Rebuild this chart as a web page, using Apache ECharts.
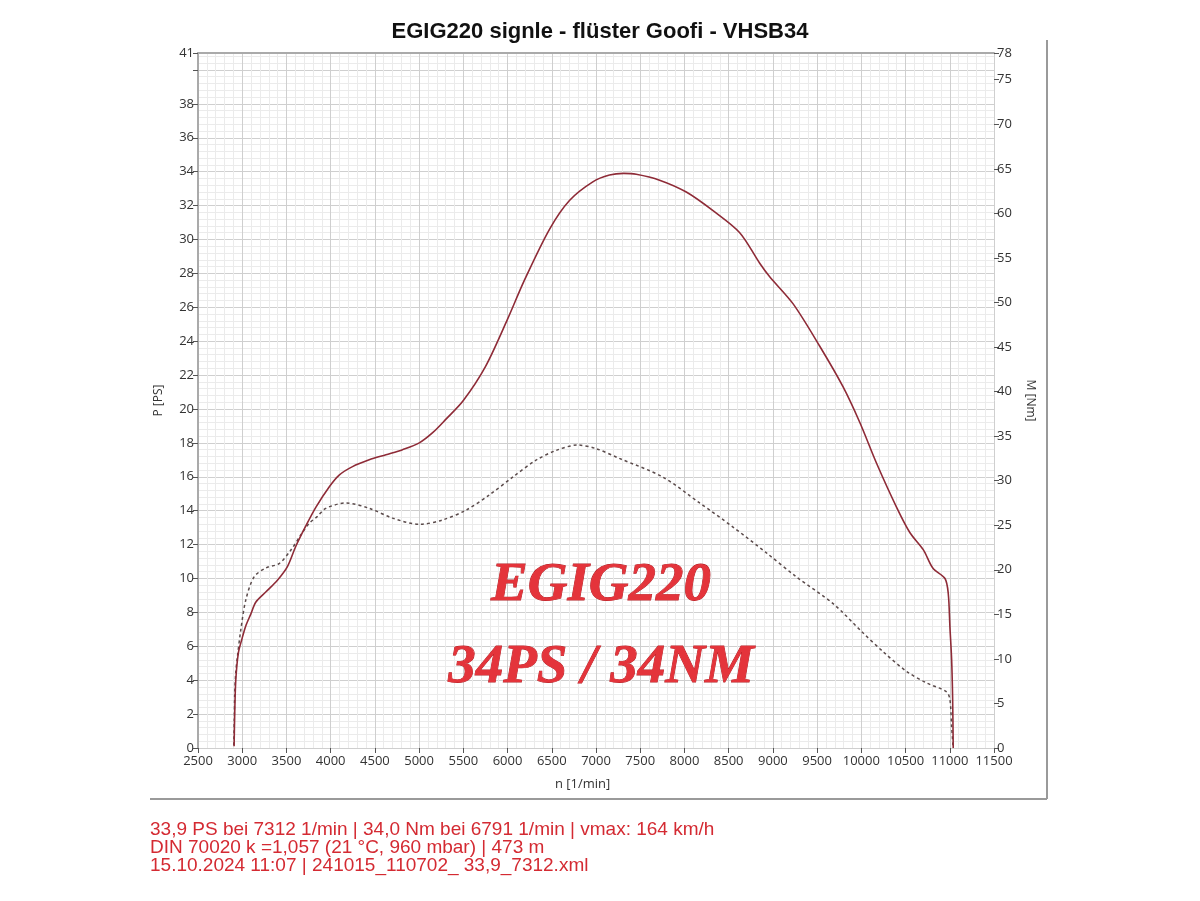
<!DOCTYPE html>
<html>
<head>
<meta charset="utf-8">
<title>EGIG220 Leistungsmessung</title>
<script src="https://cdn.jsdelivr.net/npm/echarts@6/dist/echarts.min.js"></script>
<style>
  html, body { margin: 0; padding: 0; background: #fff; }
  #main { width: 1200px; height: 901px; }
</style>
</head>
<body>
<div id="main"></div>
<script>
// Leistung (PS) ueber Drehzahl
var rpmP = [2908, 2915, 2927, 2956, 2995, 3040, 3097, 3153, 3266, 3398, 3511, 3606, 3719, 3832, 3983, 4096,
    4247, 4436, 4625, 4813, 5002, 5153, 5304, 5500, 5750, 6000, 6191, 6474, 6700, 6964, 7153, 7312, 7455,
    7719, 8021, 8323, 8625, 8851, 8964, 9229, 9530, 9794, 9983, 10172, 10399, 10550, 10700, 10810, 10946,
    10983, 11002, 11021, 11032, 11039];
var powerPS = [0.1, 2.0, 4.0, 5.6, 6.4, 7.2, 7.9, 8.6, 9.2, 9.9, 10.7, 11.9, 13.1, 14.2, 15.4, 16.1,
    16.6, 17.0, 17.3, 17.6, 18.0, 18.6, 19.4, 20.5, 22.5, 25.3, 27.6, 30.6, 32.3, 33.4, 33.8, 33.9, 33.85,
    33.5, 32.8, 31.7, 30.4, 28.6, 27.8, 26.2, 23.7, 21.3, 19.2, 16.8, 14.2, 12.7, 11.7, 10.6, 10.0,
    9.1, 7.1, 5.2, 3.0, 0];

// Drehmoment (Nm) ueber Drehzahl
var rpmM = [2905, 2910, 2915, 2927, 2945, 2983, 3040, 3134, 3266, 3417, 3549, 3662, 3757, 3851, 3945, 4172,
    4436, 4700, 5002, 5266, 5531, 5794, 6058, 6322, 6549, 6791, 7001, 7265, 7757, 8172, 8549, 8927, 9266,
    9681, 10021, 10247, 10511, 10738, 10964, 11002, 11021, 11036];
var torqueNm = [0.3, 3.0, 6.0, 8.5, 10.2, 13.2, 16.6, 19.2, 20.2, 20.7, 22.2, 23.9, 25.2, 26.0, 26.9, 27.5,
    26.9, 25.8, 25.1, 25.6, 26.7, 28.4, 30.4, 32.3, 33.4, 34.0, 33.6, 32.5, 30.4, 27.5, 24.8, 21.9, 19.2,
    16.2, 12.9, 10.8, 8.6, 7.3, 6.3, 5.4, 2.4, 0.3];

var titleText = 'EGIG220 signle - flüster Goofi - VHSB34';
var infoLines = [
    '33,9 PS bei 7312 1/min | 34,0 Nm bei 6791 1/min | vmax: 164 km/h',
    'DIN 70020 k =1,057 (21 °C, 960 mbar) | 473 m',
    '15.10.2024 11:07 | 241015_110702_ 33,9_7312.xml'
];

function pairs(xs, ys) {
    var out = [];
    for (var i = 0; i < xs.length; i++) {
        out.push([xs[i], ys[i]]);
    }
    return out;
}

var labelFont = { color: '#333', fontSize: 13, fontFamily: 'Open Sans' };

var myChart = echarts.init(document.getElementById('main'));
var option = {
    backgroundColor: '#fff',
    animation: false,
    title: {
        text: titleText,
        left: 'center',
        top: 16,
        textStyle: { fontFamily: 'Liberation Sans', fontSize: 22, fontWeight: 'bold', color: '#111' }
    },
    grid: { left: 198, right: 206, top: 53, bottom: 153 },
    xAxis: [{
        type: 'value',
        min: 2500,
        max: 11500,
        interval: 500,
        axisLine: { show: false },
        axisTick: { show: true, inside: false, length: 5, lineStyle: { color: '#555' } },
        axisLabel: Object.assign({ margin: 7, formatter: function (v) { return String(v); } }, labelFont),
        splitLine: { show: true, lineStyle: { color: '#cfcfcf', width: 1 } },
        minorTick: { show: false, splitNumber: 5 },
        minorSplitLine: { show: true, lineStyle: { color: '#ebebeb', width: 1 } }
    }, {
        // nur obere Rahmenlinie
        type: 'value',
        position: 'top',
        min: 2500,
        max: 11500,
        axisLine: { show: true, onZero: false, lineStyle: { color: '#aaa', width: 2 } },
        axisTick: { show: false },
        axisLabel: { show: false },
        splitLine: { show: false }
    }],
    yAxis: [{
        type: 'value',
        min: 0,
        max: 41,
        interval: 2,
        name: 'P [PS]',
        nameLocation: 'middle',
        nameGap: 33,
        nameTextStyle: { color: '#333', fontSize: 12, fontFamily: 'Open Sans' },
        axisLine: { show: true, lineStyle: { color: '#aaa', width: 2 } },
        axisTick: { show: true, inside: false, length: 5, lineStyle: { color: '#555' } },
        axisLabel: Object.assign({
            margin: 4,
            formatter: function (v) { return v === 40 ? '' : v; }
        }, labelFont),
        splitLine: { show: true, lineStyle: { color: '#cfcfcf', width: 1 } },
        minorTick: { show: false, splitNumber: 5 },
        minorSplitLine: { show: true, lineStyle: { color: '#ebebeb', width: 1 } }
    }, {
        type: 'value',
        min: 0,
        max: 78,
        interval: 5,
        position: 'right',
        name: 'M [Nm]',
        nameLocation: 'middle',
        nameGap: 30,
        nameRotate: -90,
        nameTextStyle: { color: '#333', fontSize: 12, fontFamily: 'Open Sans' },
        axisLine: { show: false },
        axisTick: { show: true, inside: false, length: 5, lineStyle: { color: '#555' } },
        axisLabel: Object.assign({ margin: 3 }, labelFont),
        splitLine: { show: false }
    }],
    series: [{
        name: 'P',
        type: 'line',
        yAxisIndex: 0,
        data: pairs(rpmP, powerPS),
        showSymbol: false,
        smooth: 0.3,
        lineStyle: { color: '#8e2b37', width: 1.6 },
        z: 3
    }, {
        name: 'M',
        type: 'line',
        yAxisIndex: 1,
        data: pairs(rpmM, torqueNm),
        showSymbol: false,
        smooth: 0.3,
        lineStyle: { color: '#5b4b4b', width: 1.5, type: [3, 3] },
        z: 2
    }],
    graphic: [
        {
            type: 'text', left: 555, top: 778,
            style: { text: 'n [1/min]', fill: '#333', font: '13px "Open Sans"' }
        },
        {
            type: 'line', shape: { x1: 150, y1: 799, x2: 1047, y2: 799 },
            style: { stroke: '#9a9a9a', lineWidth: 2 }
        },
        {
            type: 'line', shape: { x1: 1047, y1: 40, x2: 1047, y2: 799 },
            style: { stroke: '#9a9a9a', lineWidth: 2 }
        },
        {
            type: 'text', x: 601, y: 586, z: 10,
            style: {
                text: 'EGIG220', fill: '#e4343b', stroke: '#b01c22', lineWidth: 0.8,
                font: 'italic bold 55px "Liberation Serif"', align: 'center', verticalAlign: 'middle',
                shadowColor: 'rgba(70,0,0,0.6)', shadowBlur: 3, shadowOffsetX: 2, shadowOffsetY: 2
            }
        },
        {
            type: 'text', x: 601, y: 668, z: 10,
            style: {
                text: '34PS / 34NM', fill: '#e4343b', stroke: '#b01c22', lineWidth: 0.8,
                font: 'italic bold 55px "Liberation Serif"', align: 'center', verticalAlign: 'middle',
                shadowColor: 'rgba(70,0,0,0.6)', shadowBlur: 3, shadowOffsetX: 2, shadowOffsetY: 2
            }
        },
        {
            type: 'text', left: 150, top: 820,
            style: {
                text: infoLines.join('\n'), fill: '#d42a32', font: '19px "Liberation Sans"', lineHeight: 18
            }
        }
    ]
};
myChart.setOption(option);
</script>
</body>
</html>
